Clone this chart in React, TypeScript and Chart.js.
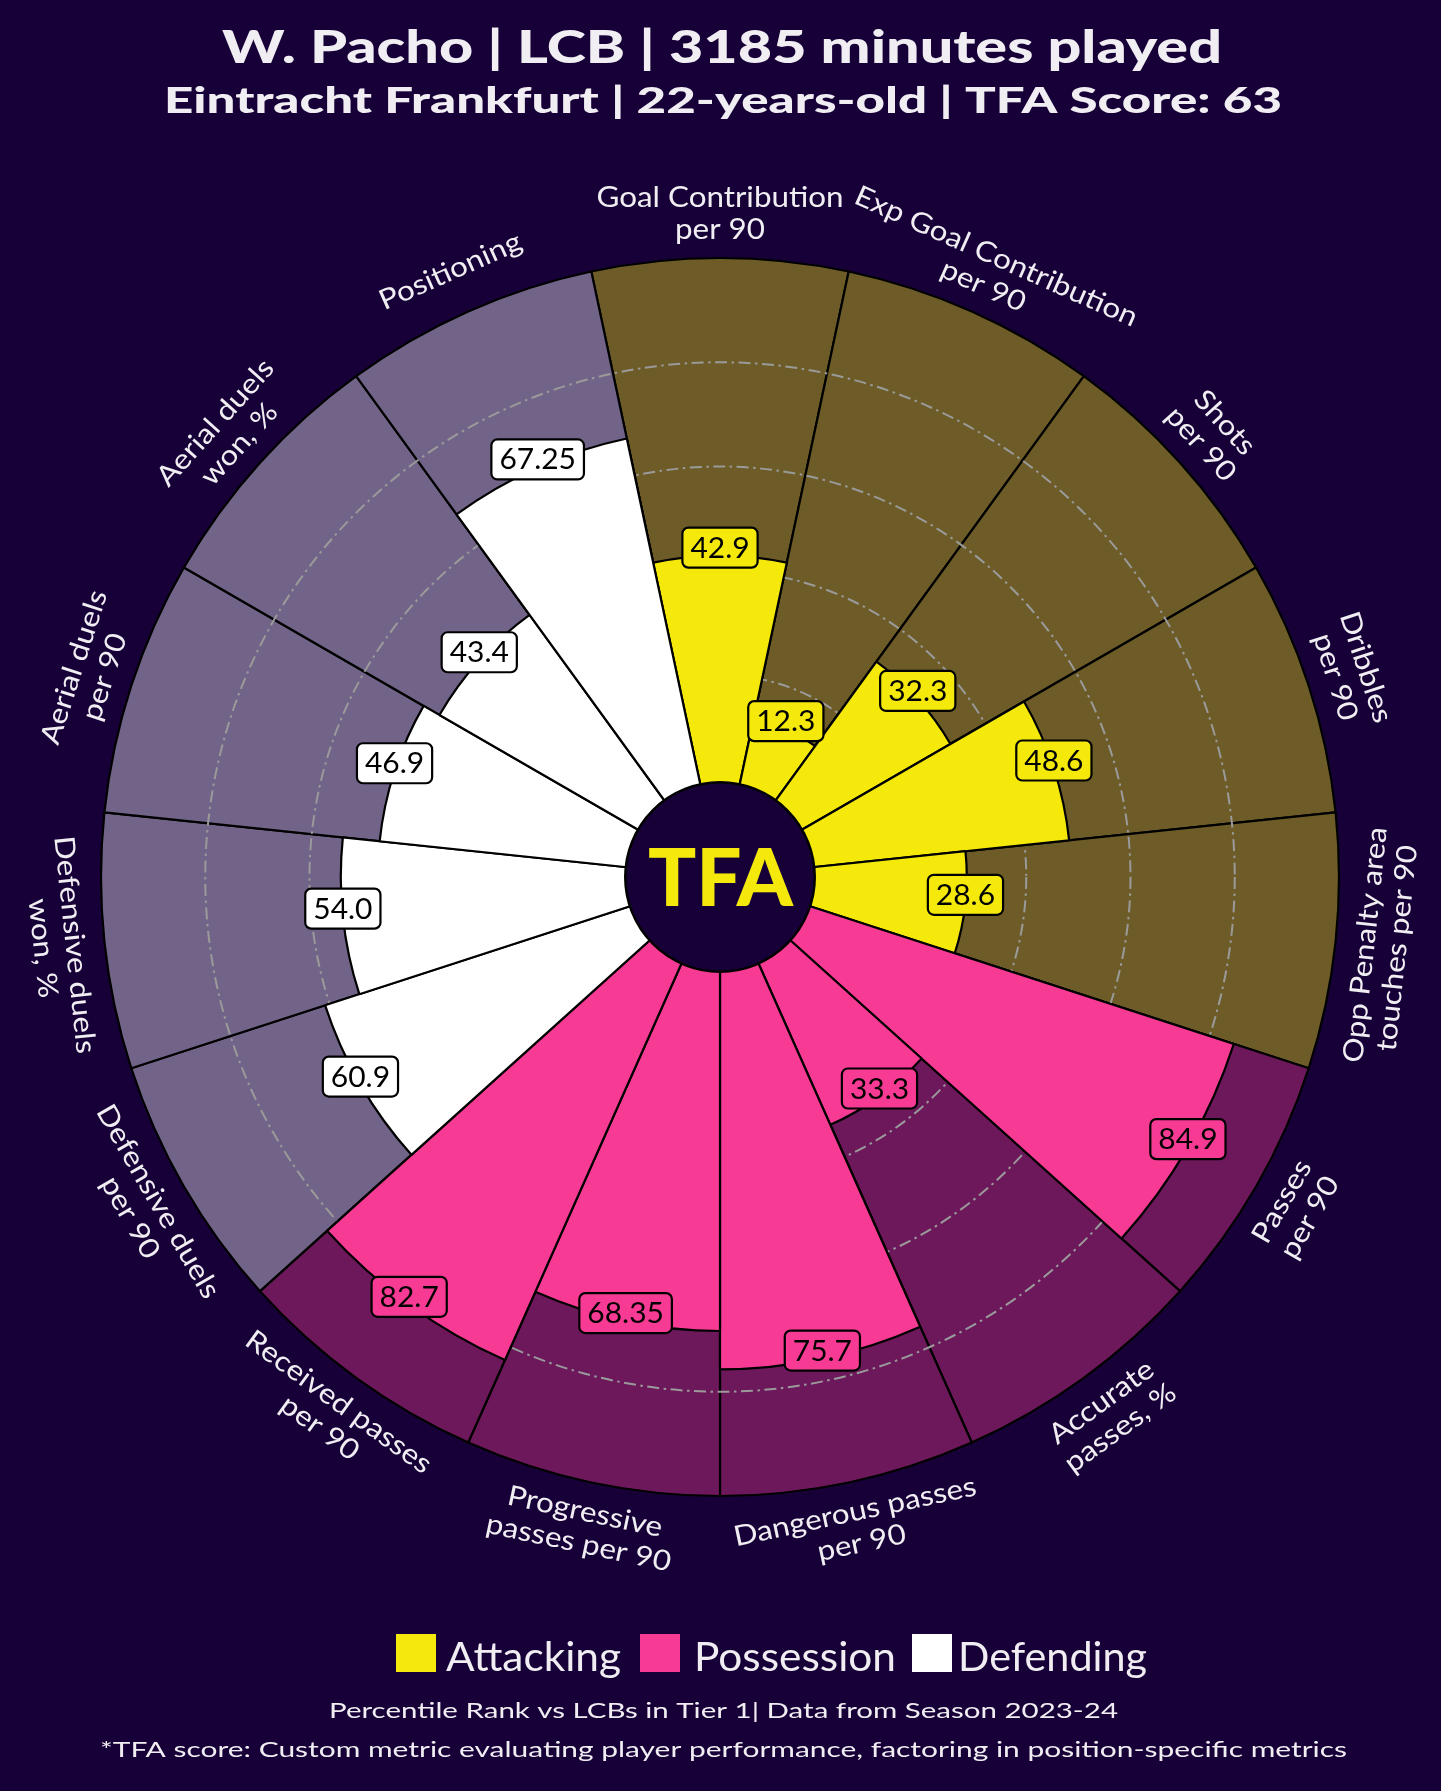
import { useEffect, useRef } from 'react';
import { Chart, registerables } from 'chart.js';

Chart.register(...registerables);

// ---------------- data ----------------
const categories = [
  'Goal Contribution\nper 90',
  'Exp Goal Contribution\nper 90',
  'Shots\nper 90',
  'Dribbles\nper 90',
  'Opp Penalty area\ntouches per 90',
  'Passes\nper 90',
  'Accurate\npasses, %',
  'Dangerous passes\nper 90',
  'Progressive\npasses per 90',
  'Received passes\nper 90',
  'Defensive duels\nper 90',
  'Defensive duels\nwon, %',
  'Aerial duels\nper 90',
  'Aerial duels\nwon, %',
  'Positioning',
];
const values = [42.9, 12.3, 32.3, 48.6, 28.6, 84.9, 33.3, 75.7, 68.35, 82.7, 60.9, 54.0, 46.9, 43.4, 67.25];
const backgroundValues = [100, 100, 100, 100, 100, 100, 100, 100, 100, 100, 100, 100, 100, 100, 100];
const categoryGroups = [
  'Attacking', 'Attacking', 'Attacking', 'Attacking', 'Attacking',
  'Possession', 'Possession', 'Possession', 'Possession', 'Possession',
  'Defending', 'Defending', 'Defending', 'Defending', 'Defending',
];
const legendGroups = ['Attacking', 'Possession', 'Defending'];
const gridValues = [20, 40, 60, 80];
const titleText = 'W. Pacho | LCB | 3185 minutes played';
const subtitleText = 'Eintracht Frankfurt | 22-years-old | TFA Score: 63';
const footerLine1 = 'Percentile Rank vs LCBs in Tier 1| Data from Season 2023-24';
const footerLine2 = '*TFA score: Custom metric evaluating player performance, factoring in position-specific metrics';
const centerLogo = 'TFA';

// ---------------- styles ----------------
const BG = '#170038';
const GROUP_COLORS: Record<string, string> = {
  Attacking: '#f4e90a',
  Possession: '#f73b94',
  Defending: '#ffffff',
};
const GROUP_BACK: Record<string, string> = {
  Attacking: '#6d5c27',
  Possession: '#6e185c',
  Defending: '#726488',
};
const TEXT_COLOR = '#f0eef2';
const FONT = 'Lato, "Open Sans", sans-serif';

const W = 1441;
const H = 1791;

// legend layout (x of square, x-range of text)
const LEGEND_LAYOUT = [
  { sq: 396, tx0: 446, tx1: 621 },
  { sq: 640, tx0: 694, tx1: 896 },
  { sq: 912, tx0: 958, tx1: 1147 },
];

function formatValue(v: number): string {
  return Number.isInteger(Math.round(v * 10 * 1000) / 1000) ? v.toFixed(1) : v.toFixed(2);
}

function fitText(ctx: CanvasRenderingContext2D, text: string, cx: number, y: number, targetW: number, font: string) {
  ctx.save();
  ctx.font = font;
  const w = ctx.measureText(text).width;
  const sx = targetW / w;
  ctx.translate(cx, y);
  ctx.scale(sx, 1);
  ctx.textAlign = 'center';
  ctx.textBaseline = 'alphabetic';
  ctx.fillText(text, 0, 0);
  ctx.restore();
}

function roundRectPath(ctx: CanvasRenderingContext2D, x: number, y: number, w: number, h: number, r: number) {
  ctx.beginPath();
  ctx.moveTo(x + r, y);
  ctx.lineTo(x + w - r, y);
  ctx.arcTo(x + w, y, x + w, y + r, r);
  ctx.lineTo(x + w, y + h - r);
  ctx.arcTo(x + w, y + h, x + w - r, y + h, r);
  ctx.lineTo(x + r, y + h);
  ctx.arcTo(x, y + h, x, y + h - r, r);
  ctx.lineTo(x, y + r);
  ctx.arcTo(x, y, x + r, y, r);
  ctx.closePath();
}

const pizzaPlugin = {
  id: 'pizza',
  beforeDraw(chart: any) {
    const ctx = chart.ctx as CanvasRenderingContext2D;
    ctx.save();
    ctx.fillStyle = BG;
    ctx.fillRect(0, 0, chart.width, chart.height);
    ctx.restore();
  },
  afterDatasetDraw(chart: any, args: any) {
    if (args.index !== 1) return;
    const scale = chart.scales.r;
    const ctx = chart.ctx as CanvasRenderingContext2D;
    ctx.save();
    ctx.strokeStyle = '#9a9a9a';
    ctx.lineWidth = 2;
    ctx.setLineDash([12, 4.5, 2.5, 4.5]);
    gridValues.forEach((v) => {
      const r = scale.getDistanceFromCenterForValue(v);
      ctx.beginPath();
      ctx.arc(scale.xCenter, scale.yCenter, r, 0, Math.PI * 2);
      ctx.stroke();
    });
    ctx.restore();
  },
  afterDatasetsDraw(chart: any) {
    const ctx = chart.ctx as CanvasRenderingContext2D;
    const scale = chart.scales.r;
    const cx = scale.xCenter;
    const cy = scale.yCenter;

    // center circle
    const r0 = scale.getDistanceFromCenterForValue(0) - 3;
    ctx.save();
    ctx.beginPath();
    ctx.arc(cx, cy, r0, 0, Math.PI * 2);
    ctx.fillStyle = BG;
    ctx.fill();
    ctx.lineWidth = 2.5;
    ctx.strokeStyle = '#000000';
    ctx.stroke();
    ctx.fillStyle = GROUP_COLORS.Attacking;
    fitText(ctx, centerLogo, cx + 0.5, cy + 29, 145, `900 80px ${FONT}`);
    ctx.restore();

    // value labels
    const meta = chart.getDatasetMeta(0);
    meta.data.forEach((arc: any, i: number) => {
      const p = arc.getProps(['x', 'y', 'startAngle', 'endAngle', 'outerRadius'], true);
      const mid = (p.startAngle + p.endAngle) / 2;
      const px = p.x + Math.cos(mid) * p.outerRadius;
      const py = p.y + Math.sin(mid) * p.outerRadius - 8;
      const txt = formatValue(values[i]);
      ctx.save();
      ctx.font = `400 28px ${FONT}`;
      const sx = 1.07;
      const tw = ctx.measureText(txt).width * sx;
      const bw = tw + 16;
      const bh = 40;
      roundRectPath(ctx, px - bw / 2, py - bh / 2, bw, bh, 6);
      ctx.fillStyle = GROUP_COLORS[categoryGroups[i]];
      ctx.fill();
      ctx.lineWidth = 2.2;
      ctx.strokeStyle = '#000000';
      ctx.stroke();
      ctx.fillStyle = '#000000';
      ctx.translate(px, py + 10);
      ctx.scale(sx, 1);
      ctx.textAlign = 'center';
      ctx.textBaseline = 'alphabetic';
      ctx.fillText(txt, 0, 0);
      ctx.restore();
    });

    // outer category labels
    const bgMeta = chart.getDatasetMeta(1);
    bgMeta.data.forEach((arc: any, i: number) => {
      const p = arc.getProps(['x', 'y', 'startAngle', 'endAngle', 'outerRadius'], true);
      const mid = (p.startAngle + p.endAngle) / 2;
      const rr = p.outerRadius + 45;
      const lx = p.x + Math.cos(mid) * rr;
      const ly = p.y + Math.sin(mid) * rr;
      let theta = mid + Math.PI / 2;
      while (theta > Math.PI) theta -= Math.PI * 2;
      while (theta <= -Math.PI) theta += Math.PI * 2;
      let rot = theta;
      if (Math.abs(theta) > Math.PI / 2) rot = theta > 0 ? theta - Math.PI : theta + Math.PI;
      const lines = categories[i].split('\n');
      const lh = 32;
      ctx.save();
      ctx.translate(lx, ly);
      ctx.rotate(rot);
      ctx.scale(1.12, 1);
      ctx.font = `400 28px ${FONT}`;
      ctx.fillStyle = TEXT_COLOR;
      ctx.textAlign = 'center';
      ctx.textBaseline = 'alphabetic';
      lines.forEach((ln, k) => {
        const yy = (k - (lines.length - 1) / 2) * lh + 10;
        ctx.fillText(ln, 0, yy);
      });
      ctx.restore();
    });
  },
  afterDraw(chart: any) {
    const ctx = chart.ctx as CanvasRenderingContext2D;
    ctx.save();
    ctx.fillStyle = TEXT_COLOR;
    fitText(ctx, titleText, 722, 63, 1000, `900 46px ${FONT}`);
    fitText(ctx, subtitleText, 723, 113, 1118, `900 36px ${FONT}`);

    // legend
    legendGroups.forEach((g, i) => {
      const L = LEGEND_LAYOUT[i];
      ctx.fillStyle = GROUP_COLORS[g];
      ctx.fillRect(L.sq, 1634, 40, 38);
      ctx.fillStyle = TEXT_COLOR;
      fitText(ctx, g, (L.tx0 + L.tx1) / 2, 1671, L.tx1 - L.tx0, `400 40px ${FONT}`);
    });

    fitText(ctx, footerLine1, 723.5, 1718, 789, `400 22px ${FONT}`);
    fitText(ctx, footerLine2, 723.5, 1757, 1247, `400 22px ${FONT}`);
    ctx.restore();
  },
};

export default function App() {
  const canvasRef = useRef<HTMLCanvasElement | null>(null);

  useEffect(() => {
    document.body.style.margin = '0';
    document.body.style.background = BG;
    const canvas = canvasRef.current;
    if (!canvas) return;
    const chart = new Chart(canvas, {
      type: 'polarArea',
      data: {
        labels: categories.map((c) => c.replace('\n', ' ')),
        datasets: [
          {
            data: values,
            backgroundColor: categoryGroups.map((g) => GROUP_COLORS[g]),
            borderColor: '#000000',
            borderWidth: 2.2,
            clip: false as any,
          },
          {
            data: backgroundValues,
            backgroundColor: categoryGroups.map((g) => GROUP_BACK[g]),
            borderColor: '#000000',
            borderWidth: 2.2,
            clip: false as any,
          },
        ],
      },
      options: {
        responsive: false,
        animation: false,
        devicePixelRatio: 1,
        layout: { padding: { left: 101, right: 102, top: 258, bottom: 295 } },
        plugins: {
          legend: { display: false },
          tooltip: { enabled: false },
          title: { display: false },
        },
        scales: {
          r: {
            min: -18.75,
            max: 100,
            startAngle: -12,
            grid: { display: false },
            angleLines: { display: false },
            ticks: { display: false },
            pointLabels: { display: false },
          },
        },
      } as any,
      plugins: [pizzaPlugin],
    });
    return () => chart.destroy();
  }, []);

  return (
    <div style={{ width: W, height: H, background: BG }}>
      <canvas ref={canvasRef} width={W} height={H} style={{ display: 'block', width: W, height: H }} />
    </div>
  );
}
